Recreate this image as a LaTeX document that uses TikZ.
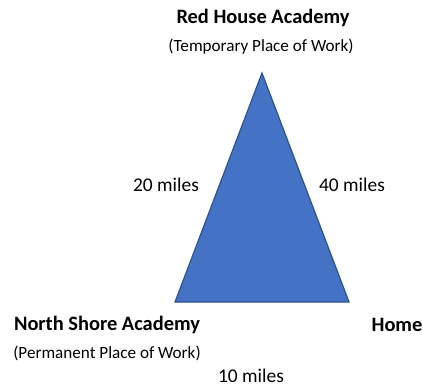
\documentclass[tikz,border=0pt]{standalone}
\usepackage{fontspec}
\setmainfont{Carlito}
\usepackage{tikz}

\begin{document}
\begin{tikzpicture}
  [x=1bp,y=-1bp,
   place/.style={font=\bfseries\fontsize{20.5}{24}\selectfont},
   note/.style={font=\fontsize{17.2}{21}\selectfont},
   dist/.style={font=\fontsize{19.5}{23}\selectfont}]

  \useasboundingbox (0,0) rectangle (423,387);

  \coordinate (top) at (262,73);
  \coordinate (left) at (175,302);
  \coordinate (right) at (349,302);
  \filldraw[fill={rgb,255:red,68;green,114;blue,196},draw={rgb,255:red,47;green,82;blue,143},line width=1.2bp]
    (top) -- (left) -- (right) -- cycle;

  \node[place] (n1) at (263,18) {Red House Academy};
  \node[note] (n2) at (261,47) {(Temporary Place of Work)};
  \node[place] (n3) at (107,325) {North Shore Academy};
  \node[note] (n4) at (107,353) {(Permanent Place of Work)};
  \node[place] (n5) at (397,325) {Home};
  \node[dist] (n6) at (166,185) {20 miles};
  \node[dist] (n7) at (352,185) {40 miles};
  \node[dist] (n8) at (251,376) {10 miles};
\end{tikzpicture}
\end{document}
